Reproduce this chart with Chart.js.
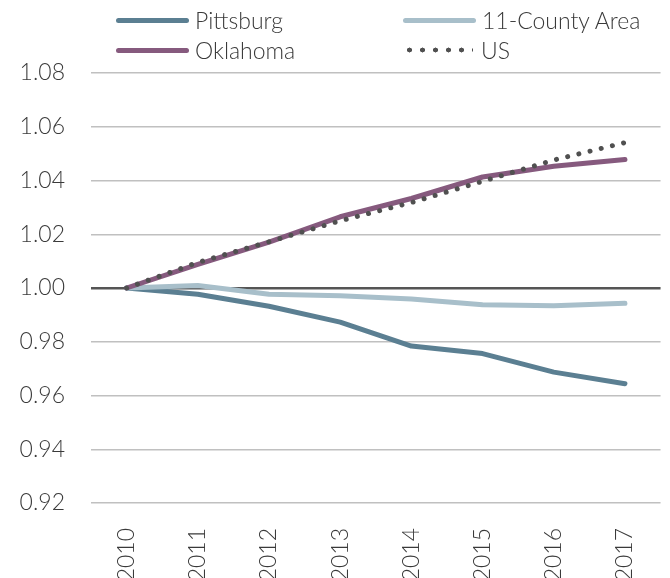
<!DOCTYPE html>
<html>
<head>
<meta charset="utf-8">
<script src="https://cdn.jsdelivr.net/npm/chart.js@4.4.1/dist/chart.umd.min.js"></script>
<style>
  body { margin: 0; background: #fff; }
  #wrap { position: relative; width: 670px; height: 578px; font-family: Lato, sans-serif; font-weight: 300; color: #3a3a3a; }
  #myChart { position: absolute; left: 0; top: 0; }
  .item { position: absolute; height: 30px; display: flex; align-items: center; font-size: 23px; white-space: nowrap; }
  .swatch { width: 73px; height: 5px; border-radius: 3px; margin-right: 6px; }
  .dots { width: 70px; height: 6px; margin-right: 8px;
    background-image: radial-gradient(circle, #505050 2.3px, transparent 2.7px);
    background-size: 13px 6px; background-position: 0 0; }
</style>
</head>
<body>
<div id="wrap">
  <canvas id="myChart" width="670" height="578"></canvas>
  <div id="legend"></div>
</div>
<script>
// 인덱스 (2010 = 1.00)
const years = ['2010', '2011', '2012', '2013', '2014', '2015', '2016', '2017'];
const pittsburg = [1.000, 0.9977, 0.9932, 0.9873, 0.9784, 0.9756, 0.9687, 0.9644];
const county = [1.000, 1.0009, 0.9977, 0.9971, 0.9959, 0.9938, 0.9934, 0.9943];
const oklahoma = [1.000, 1.0088, 1.0171, 1.0265, 1.0333, 1.0413, 1.0453, 1.0478];
const us = [1.000, 1.0095, 1.0172, 1.0250, 1.0318, 1.0397, 1.0476, 1.0541];
const yTicks = [0.92, 0.94, 0.96, 0.98, 1.00, 1.02, 1.04, 1.06, 1.08];

const colors = {
  pittsburg: '#5b7f92',
  county: '#a8bfca',
  oklahoma: '#865a7e',
  us: '#505050'
};

// legend (html)
const items = [
  { name: 'Pittsburg', color: colors.pittsburg, x: 116, y: 5 },
  { name: '11-County Area', color: colors.county, x: 403, y: 5 },
  { name: 'Oklahoma', color: colors.oklahoma, x: 116, y: 35 },
  { name: 'US', color: null, x: 403, y: 35 }
];
const legend = document.getElementById('legend');
items.forEach(it => {
  const d = document.createElement('div');
  d.className = 'item';
  d.style.left = it.x + 'px';
  d.style.top = it.y + 'px';
  const s = document.createElement('span');
  if (it.color) {
    s.className = 'swatch';
    s.style.background = it.color;
  } else {
    s.className = 'dots';
  }
  const t = document.createElement('span');
  t.textContent = it.name;
  d.append(s, t);
  legend.append(d);
});

const lineSet = (label, data, color, order) => ({
  label: label,
  data: data,
  borderColor: color,
  borderWidth: 5,
  borderCapStyle: 'round',
  borderJoinStyle: 'round',
  pointRadius: 0,
  tension: 0,
  fill: false,
  order: order
});

const usSet = lineSet('US', us, colors.us, 0);
usSet.borderWidth = 5;
usSet.borderDash = [0.01, 11.5];

const tickFont = { family: 'Lato', size: 23, weight: 300 };

new Chart(document.getElementById('myChart'), {
  type: 'line',
  data: {
    labels: years,
    datasets: [
      usSet,
      lineSet('Oklahoma', oklahoma, colors.oklahoma, 1),
      lineSet('11-County Area', county, colors.county, 2),
      lineSet('Pittsburg', pittsburg, colors.pittsburg, 3)
    ]
  },
  options: {
    responsive: false,
    animation: false,
    layout: { padding: { top: 73, right: 7, left: 0, bottom: 0 } },
    plugins: { legend: { display: false }, tooltip: { enabled: false } },
    scales: {
      x: {
        offset: true,
        grid: { display: false },
        border: { display: false },
        ticks: {
          minRotation: 90, maxRotation: 90, padding: 17,
          color: '#3a3a3a', font: tickFont
        },
        afterFit: s => { s.height = 75; }
      },
      y: {
        min: 0.92, max: 1.08,
        afterBuildTicks: s => { s.ticks = yTicks.map(v => ({ value: v })); },
        grid: {
          drawTicks: false,
          color: c => Math.abs(c.tick.value - 1) < 1e-6 ? '#555555' : '#c0c0c0',
          lineWidth: c => Math.abs(c.tick.value - 1) < 1e-6 ? 2.5 : 1.5
        },
        border: { display: false },
        ticks: {
          padding: 26,
          color: '#3a3a3a', font: tickFont,
          callback: v => Number(v).toFixed(2)
        },
        afterFit: s => { s.width = 91; }
      }
    }
  }
});
</script>
</body>
</html>
